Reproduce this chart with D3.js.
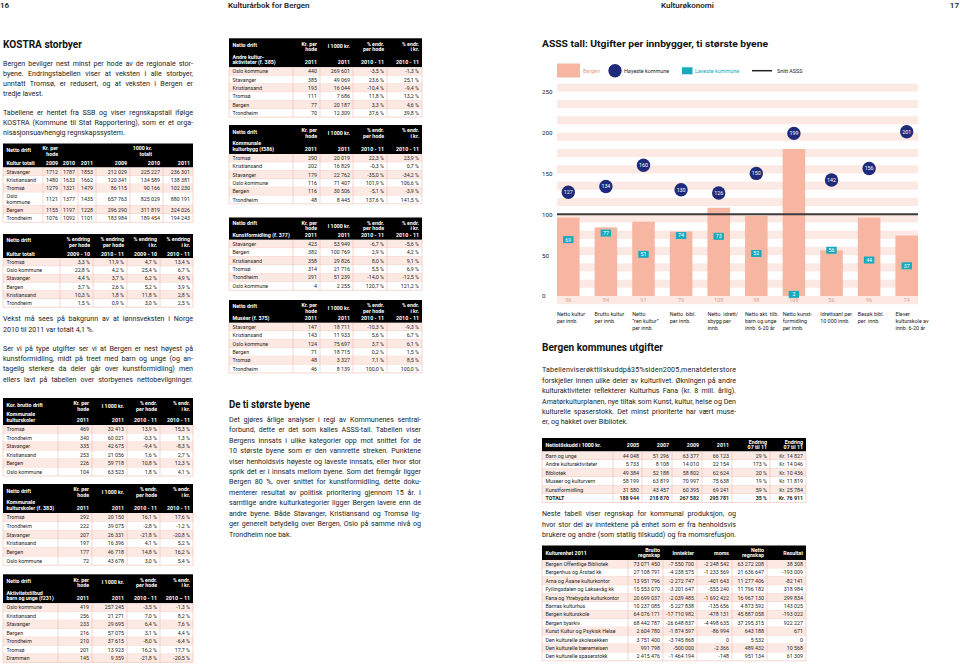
<!DOCTYPE html>
<html><head><meta charset="utf-8">
<script src="https://cdn.jsdelivr.net/npm/d3@7"></script>
<style>
body{margin:0;background:#fff;}
svg{display:block;}
text{font-family:Roboto,"Noto Sans",sans-serif;}
</style>
</head><body>
<svg id="c" width="960" height="664"></svg>
<script>
// ---------------- DATA ----------------
const categories = [["Netto kultur","per innb."],["Brutto kultur","per innb."],["Netto","\u201Cren kultur\u201D","per innb."],["Netto  bibl.","per innb."],["Netto  idrett/","sbygg per","innb."],["Netto akt. tilb.","barn og unge","innb. 6-20 år"],["Netto kunst-","formidling","per innb."],["Idrettsanl per.","10 000 innb."],["Besøk bibl.","per. innb."],["Elever","kulturskole av","innb. 6-20 år"]];
const bergenValues = [96,84,91,79,108,98,180,56,96,74];
const bergenLabels = ["96","84","91","79","108","98","108","56","96","74"];
const highestValues = [127,134,160,130,126,150,199,142,156,201];
const lowestValues = [69,77,51,74,73,52,2,56,44,37];
const snittValue = 100;
const yTickValues = [0,50,100,150,200,250];
const legendLabels = ["Bergen","Høyeste kommune","Laveste kommune","Snitt ASSS"];

const t1Cities = ["Stavanger","Kristiansand","Tromsø","Oslo\nkommune","Bergen","Trondheim"];
const t1Hode2009 = ["1712","1480","1279","1121","1155","1076"];
const t1Hode2010 = ["1787","1633","1321","1377","1197","1092"];
const t1Hode2011 = ["1853","1662","1479","1435","1228","1101"];
const t1Tot2009 = ["212 029","120 341","86 115","657 763","296 290","183 984"];
const t1Tot2010 = ["225 227","134 589","90 166","825 029","311 819","189 454"];
const t1Tot2011 = ["236 301","138 381","102 230","880 191","324 026","194 243"];
const t1Years = ["2009","2010","2011","2009","2010","2011"];
const t2Cities = ["Tromsø","Oslo kommune","Stavanger","Bergen","Kristiansand","Trondheim"];
const t2HodeA = ["3,3 %","22,8 %","4,4 %","3,7 %","10,3 %","1,5 %"];
const t2HodeB = ["11,9 %","4,2 %","3,7 %","2,6 %","1,8 %","0,9 %"];
const t2KrA = ["4,7 %","25,4 %","6,2 %","5,2 %","11,8 %","3,0 %"];
const t2KrB = ["13,4 %","6,7 %","4,9 %","3,9 %","2,8 %","2,5 %"];
const t2Heads = ["% endring\nper hode","% endring\nper hode","% endring\ni kr.","% endring\ni kr."];
const t2Periods = ["2009 - 10","2010 - 11","2009 - 10","2010 - 11"];
const t3Cities = ["Tromsø","Trondheim","Stavanger","Kristiansand","Bergen","Oslo kommune"];
const t3Hode = ["469","340","335","253","226","104"];
const t3Total = ["32 413","60 021","42 675","21 056","59 718","63 523"];
const t3ChgHode = ["13,9 %","-0,3 %","-9,4 %","1,6 %","10,8 %","1,8 %"];
const t3ChgKr = ["15,3 %","1,3 %","-8,3 %","2,7 %","12,3 %","4,1 %"];
const t4Cities = ["Tromsø","Trondheim","Stavanger","Kristiansand","Bergen","Oslo kommune"];
const t4Hode = ["292","222","207","197","177","72"];
const t4Total = ["20 150","39 075","26 331","16 396","46 718","43 678"];
const t4ChgHode = ["16,1 %","-2,8 %","-21,8 %","4,1 %","14,8 %","3,0 %"];
const t4ChgKr = ["17,6 %","-1,2 %","-20,8 %","5,2 %","16,2 %","5,4 %"];
const t5Cities = ["Oslo kommune","Kristiansand","Stavanger","Bergen","Trondheim","Tromsø","Drammen"];
const t5Hode = ["419","256","233","216","210","201","145"];
const t5Total = ["257 245","21 271","29 695","57 075","37 615","13 923","9 359"];
const t5ChgHode = ["-3,5 %","7,0 %","6,4 %","3,1 %","-8,0 %","16,2 %","-21,8 %"];
const t5ChgKr = ["-1,3 %","8,2 %","7,6 %","4,4 %","-6,4 %","17,7 %","-20,5 %"];
const tACities = ["Oslo kommune","Stavanger","Kristiansand","Tromsø","Bergen","Trondheim"];
const tAHode = ["440","385","193","111","77","70"];
const tATotal = ["269 601","49 069","16 044","7 686","20 187","12 309"];
const tAChgHode = ["-3,5 %","23,6 %","-10,4 %","11,8 %","3,3 %","37,6 %"];
const tAChgKr = ["-1,3 %","25,1 %","-9,4 %","13,2 %","4,6 %","39,8 %"];
const tBCities = ["Tromsø","Kristiansand","Stavanger","Oslo kommune","Bergen","Trondheim"];
const tBHode = ["290","202","179","116","116","48"];
const tBTotal = ["20 019","16 829","22 762","71 407","30 506","8 445"];
const tBChgHode = ["22,3 %","-0,3 %","-35,0 %","101,9 %","-5,1 %","137,6 %"];
const tBChgKr = ["23,9 %","0,7 %","-34,2 %","106,6 %","-3,9 %","141,5 %"];
const tCCities = ["Stavanger","Bergen","Kristiansand","Tromsø","Trondheim","Oslo kommune"];
const tCHode = ["423","382","358","314","291","4"];
const tCTotal = ["53 949","100 769","29 826","21 716","51 239","2 255"];
const tCChgHode = ["-6,7 %","2,9 %","8,0 %","5,5 %","-14,0 %","120,7 %"];
const tCChgKr = ["-5,6 %","4,2 %","9,1 %","6,9 %","-12,5 %","121,2 %"];
const tDCities = ["Stavanger","Kristiansand","Oslo kommune","Bergen","Tromsø","Trondheim"];
const tDHode = ["147","143","124","71","48","46"];
const tDTotal = ["18 711","11 933","75 697","18 715","3 327","8 139"];
const tDChgHode = ["-10,3 %","5,6 %","3,7 %","0,2 %","7,1 %","100,0 %"];
const tDChgKr = ["-9,3 %","6,7 %","6,1 %","1,5 %","8,5 %","100,0 %"];
const heads4 = ["Kr. per\nhode","I 1000 kr.","% endr.\nper hode","% endr.\ni kr."];
const periods4 = ["2011","2011","2010 - 11","2010 - 11"];
const r1Rows = ["Barn og unge","Andre kulturaktiviteter","Bibliotek","Museer og kulturvern","Kunstformidling","TOTALT"];
const r1Heads = ["Nettotilskudd i 1000 kr.","2005","2007","2009","2011","Endring\n07 til 11","Endring\n07 til 11"];
const r1Y2005 = ["44 048","5 733","49 384","58 199","31 580","188 944"];
const r1Y2007 = ["51 296","8 108","52 188","63 819","43 457","218 870"];
const r1Y2009 = ["63 377","14 010","58 802","70 997","60 395","267 582"];
const r1Y2011 = ["66 123","22 154","62 624","75 638","69 241","295 781"];
const r1Pct = ["29 %","173 %","20 %","19 %","59 %","35 %"];
const r1Kr = ["Kr. 14 827","Kr. 14 046","Kr. 10 436","Kr. 11 819","Kr. 25 784","Kr. 76 911"];
const r2Heads = ["Kulturenhet 2011","Brutto\nregnskap","Inntekter","moms","Netto\nregnskap","Resultat"];
const r2Units = ["Bergen Offentlige Bibliotek","Bergenhus og Årstad kk","Arna og Åsane kulturkontor","Fyllingsdalen og Laksevåg kk","Fana og Ytrebygda kulturkontor","Barnas kulturhus","Bergen kulturskole","Bergen byarkiv","Kunst Kultur og Psykisk Helse","Den kulturelle skolesekken","Den kulturelle bæremeisen","Den kulturelle spaserstokk"];
const r2Brutto = ["73 071 450","27 108 791","13 951 796","15 553 070","20 699 037","10 237 085","64 076 171","68 442 787","2 604 780","3 751 400","991 798","2 415 476"];
const r2Inntekter = ["-7 550 700","-4 238 575","-2 272 747","-3 201 647","-2 039 485","-5 227 838","-17 710 982","-26 648 837","-1 874 597","-3 745 868","-500 000","-1 464 194"];
const r2Moms = ["-2 248 542","-1 233 569","-401 643","-555 240","-1 692 422","-135 656","-478 131","-4 498 635","-86 994","0","-2 366","-148"];
const r2Netto = ["63 272 208","21 636 647","11 277 406","11 796 182","16 967 130","4 873 592","45 887 058","37 295 315","643 188","5 532","489 432","951 134"];
const r2Resultat = ["38 308","-193 009","-82 141","318 984","299 834","143 025","-193 022","922 227","671","0","10 568","61 309"];

// ---------------- HELPERS ----------------
const svg = d3.select("#c");
const INK = "#1d1d1b";
const PINK_FILL = "#fde9e3";
const PINK_LINE = "#f2bcae";

function txt(p, x, cy, s, o = {}) {
  const size = o.size || 7;
  return p.append("text").attr("x", x).attr("y", cy + size * 0.35)
    .attr("font-size", size).attr("font-weight", o.weight || 400)
    .attr("fill", o.fill || INK).attr("text-anchor", o.anchor || "start").text(s);
}
function fit(sel, width, justify) {
  const n = sel.node(); const w = n.getComputedTextLength();
  const s = sel.text(); const spaces = (s.match(/ /g) || []).length;
  if (w > width) { sel.attr("textLength", width).attr("lengthAdjust", "spacingAndGlyphs"); }
  else if (justify) {
    if (spaces > 0) sel.style("word-spacing", ((width - w) / spaces) + "px");
    else sel.attr("textLength", width).attr("lengthAdjust", "spacing");
  }
}
function para(lines, x, w, y0, lh, size, justifyLast) {
  lines.forEach((l, i) => {
    const t = txt(svg, x, y0 + i * lh, l, { size });
    fit(t, w, i < lines.length - 1 || justifyLast);
  });
}
function heading(s, x, cy, size, w) {
  const t = txt(svg, x, cy, s, { size, weight: 700, fill: "#111" });
  if (w) t.attr("textLength", w).attr("lengthAdjust", "spacingAndGlyphs");
  return t;
}

const FS = 5.3, LG = 5.4;
function drawTable(cols, top, headH, headCells, columns, rowHs, opts = {}) {
  const g = svg.append("g");
  const x0 = cols[0], x1 = cols[cols.length - 1];
  g.append("rect").attr("x", x0).attr("y", top).attr("width", x1 - x0).attr("height", headH).attr("fill", "#000");
  headCells.forEach(h => {
    h.lines.forEach((ln, i) => {
      const x = h.x != null ? h.x : (h.anchor === "start" ? cols[h.c] + 3.5 : cols[h.c + 1] - 3);
      txt(g, x, top + h.cy + i * LG, ln, { size: FS, weight: 700, fill: "#fff", anchor: h.anchor });
    });
  });
  const nRows = columns[0].length;
  let y = top + headH;
  const y0 = y;
  for (let r = 0; r < nRows; r++) {
    const rh = Array.isArray(rowHs) ? rowHs[r] : rowHs;
    g.append("rect").attr("x", x0).attr("y", y).attr("width", x1 - x0).attr("height", rh)
      .attr("fill", r % 2 === 0 ? PINK_FILL : "#fff");
    columns.forEach((col, c) => {
      const lines = String(col[r]).split("\n");
      lines.forEach((ln, i) => {
        const cy = y + rh / 2 - (lines.length - 1) * LG / 2 + i * LG;
        const bold = opts.boldRows && opts.boldRows.includes(r);
        if (c === 0) txt(g, cols[0] + 3.5, cy, ln, { size: FS, weight: bold ? 700 : 400 });
        else txt(g, cols[c + 1] - 3, cy, ln, { size: FS, anchor: "end", weight: bold ? 700 : 400 });
      });
    });
    y += rh;
    g.append("line").attr("x1", x0).attr("x2", x1).attr("y1", y).attr("y2", y).attr("stroke", PINK_LINE).attr("stroke-width", 0.6);
  }
  cols.forEach((cx) => {
    g.append("line").attr("x1", cx).attr("x2", cx).attr("y1", y0).attr("y2", y).attr("stroke", PINK_LINE).attr("stroke-width", 0.6);
  });
  return y;
}
function head4(title, sub, headH, periods) {
  const cells = [{ c: 0, lines: [title], cy: headH > 24 ? 7 : 6, anchor: "start" }];
  const subLines = sub.split("\n");
  cells.push({ c: 0, lines: subLines, cy: headH - 5 - (subLines.length - 1) * LG, anchor: "start" });
  heads4.forEach((h, i) => {
    const ls = h.split("\n");
    cells.push({ c: i + 1, lines: ls, cy: ls.length === 1 ? 5.5 + LG / 2 : 5.5, anchor: "end" });
    cells.push({ c: i + 1, lines: [periods[i]], cy: headH - 5, anchor: "end" });
  });
  return cells;
}

// ---------------- PAGE HEADER ----------------
txt(svg, 0, 5, "16", { size: 8, weight: 600 });
txt(svg, 228, 5, "Kulturårbok for Bergen", { size: 8, weight: 600 });
txt(svg, 661, 5, "Kulturøkonomi", { size: 8, weight: 600 });
txt(svg, 959, 5, "17", { size: 8, weight: 600, anchor: "end" });

// ---------------- LEFT COLUMN ----------------
heading("KOSTRA storbyer", 3, 44, 10.5, 79);
para(["Bergen bevilger nest minst per hode av de regionale stor-",
  "byene. Endringstabellen viser at veksten i alle storbyer,",
  "unntatt Tromsø, er redusert, og at veksten i Bergen er",
  "tredje lavest."], 3, 190, 63.3, 10.1, 7.1);
para(["Tabellene er hentet fra SSB og viser regnskapstall ifølge",
  "KOSTRA (Kommune til Stat Rapportering), som er et orga-",
  "nisasjonsuavhengig regnskapssystem."], 3, 190, 112.3, 10.2, 7.1);
svg.append("line").attr("x1", 3).attr("x2", 193).attr("y1", 145).attr("y2", 145).attr("stroke", "#888").attr("stroke-width", 0.6);

(function () {
  const cols = [3, 43, 61, 78, 96, 130, 163, 193];
  const hh = 24;
  const cells = [{ c: 0, lines: ["Netto drift"], cy: 6.5, anchor: "start" },
  { c: 1, lines: ["Kr. per", "hode"], cy: 5, anchor: "end" },
  { c: 4, lines: ["1000 kr.", "totalt"], cy: 5, anchor: "end", x: 152 },
  { c: 0, lines: ["Kultur totalt"], cy: hh - 4.2, anchor: "start" }];
  t1Years.forEach((yr, i) => cells.push({ c: i + 1, lines: [yr], cy: hh - 4.2, anchor: "end" }));
  drawTable(cols, 143.5, hh, cells, [t1Cities, t1Hode2009, t1Hode2010, t1Hode2011, t1Tot2009, t1Tot2010, t1Tot2011],
    [8.3, 8.3, 8.3, 13.3, 8.3, 8.3]);
})();
(function () {
  const cols = [3, 60, 93, 127, 160, 193];
  const hh = 24;
  const cells = [{ c: 0, lines: ["Netto drift"], cy: 6.5, anchor: "start" },
  { c: 0, lines: ["Kultur totalt"], cy: hh - 4.2, anchor: "start" }];
  t2Heads.forEach((h, i) => { cells.push({ c: i + 1, lines: h.split("\n"), cy: 5.5, anchor: "end" }); cells.push({ c: i + 1, lines: [t2Periods[i]], cy: hh - 4.2, anchor: "end" }); });
  drawTable(cols, 234, hh, cells, [t2Cities, t2HodeA, t2HodeB, t2KrA, t2KrB], 8.2);
})();
para(["Vekst må sees på bakgrunn av at lønnsveksten i Norge",
  "2010 til 2011 var totalt 4,1 %."], 3, 190, 319, 10.2, 7.1);
para(["Ser vi på type utgifter ser vi at Bergen er nest høyest på",
  "kunstformidling, midt på treet med barn og unge (og an-",
  "tagelig sterkere da deler går over kunstformidling) men",
  "ellers lavt på tabellen over storbyenes nettobevilgninger."], 3, 190, 348.3, 10.3, 7.1, true);

const cols4L = [3, 58, 92, 127, 160, 193];
drawTable(cols4L, 398, 27, head4("Kor. brutto drift", "Kommunale\nkulturskoler", 27, periods4), [t3Cities, t3Hode, t3Total, t3ChgHode, t3ChgKr], 8.5);
drawTable(cols4L, 484, 29, head4("Netto drift", "Kommunale\nkulturskoler (f. 383)", 29, periods4), [t4Cities, t4Hode, t4Total, t4ChgHode, t4ChgKr], 8.7);
drawTable(cols4L, 574.3, 29, head4("Netto drift", "Aktivitetstilbud\nbarn og unge (f231)", 29, ["2011", "2011", "2010 - 11", "2010 – 11"]), [t5Cities, t5Hode, t5Total, t5ChgHode, t5ChgKr], 8.45);

// ---------------- MIDDLE COLUMN ----------------
const cols4M = [229, 293, 320, 353, 387, 422];
drawTable(cols4M, 38.3, 29, head4("Netto drift", "Andre kultur-\naktiviteter (f. 385)", 29, periods4), [tACities, tAHode, tATotal, tAChgHode, tAChgKr], 8.3);
drawTable(cols4M, 125, 29, head4("Netto drift", "Kommunale\nkulturbygg (f386)", 29, periods4), [tBCities, tBHode, tBTotal, tBChgHode, tBChgKr], 8.3);
drawTable(cols4M, 217.5, 22.3, head4("Netto drift", "Kunstformidling (f. 377)", 22.3, periods4), [tCCities, tCHode, tCTotal, tCChgHode, tCChgKr], 8.4);
drawTable(cols4M, 300, 22.8, head4("Netto drift", "Muséer (f. 375)", 22.8, periods4), [tDCities, tDHode, tDTotal, tDChgHode, tDChgKr], 8.35);

heading("De ti største byene", 229, 404.3, 10.5, 81);
para(["Det gjøres årlige analyser i regi av Kommunenes sentral-",
  "forbund, dette er det som kalles ASSS-tall. Tabellen viser",
  "Bergens innsats i ulike kategorier opp mot snittet for de",
  "10 største byene som er den vannrette streken. Punktene",
  "viser henholdsvis høyeste og laveste innsats, eller hvor stor",
  "sprik det er i innsats mellom byene. Som det fremgår ligger",
  "Bergen 80 %, over snittet for kunstformidling, dette doku-",
  "menterer resultat av politisk prioritering gjennom 15 år. I",
  "samtlige andre kulturkategorier ligger Bergen lavere enn de",
  "andre byene. Både Stavanger, Kristiansand og Tromsø lig-",
  "ger generelt betydelig over Bergen, Oslo på samme nivå og",
  "Trondheim noe bak."], 229, 192, 419.3, 10.45, 7.1);

// ---------------- CHART ----------------
heading("ASSS tall: Utgifter per innbygger, ti største byene", 542, 44, 9.8, 226);

const x = d3.scaleBand().domain(d3.range(categories.length)).range([557, 918]).paddingInner(0.4).paddingOuter(0);
const y = d3.scaleLinear().domain([0, 250]).range([296, 91.7]);
const chart = svg.append("g");

const stripeStarts = d3.range(-10, 260, 20);
chart.selectAll("rect.stripe").data(stripeStarts).join("rect").attr("class", "stripe")
  .attr("x", 557).attr("width", 918 - 557)
  .attr("y", d => y(d + 10)).attr("height", d => y(d) - y(d + 10)).attr("fill", PINK_FILL);

const yAxis = d3.axisLeft(y).tickValues(yTickValues).tickSize(0).tickPadding(0);
const ag = chart.append("g").attr("transform", "translate(542,0)").call(yAxis);
ag.select(".domain").remove();
ag.selectAll("text").attr("x", 0).attr("text-anchor", "start").attr("font-size", 6.2).attr("fill", "#222")
  .attr("font-family", "Roboto, sans-serif");

chart.selectAll("rect.bar").data(bergenValues).join("rect").attr("class", "bar")
  .attr("x", (d, i) => x(i)).attr("width", x.bandwidth())
  .attr("y", d => y(d)).attr("height", d => y(0) - y(d)).attr("fill", "#f7b6a2");

chart.selectAll("text.vl").data(bergenLabels).join("text").attr("class", "vl")
  .attr("x", (d, i) => x(i) + x.bandwidth() / 2).attr("y", y(-5) + 2)
  .attr("text-anchor", "middle").attr("font-size", 5.6).attr("fill", "#d9a393").text(d => d);

chart.append("line").attr("x1", 557).attr("x2", 918).attr("y1", y(snittValue)).attr("y2", y(snittValue))
  .attr("stroke", "#3b3b3b").attr("stroke-width", 2);

const lg = chart.selectAll("g.low").data(lowestValues).join("g").attr("class", "low")
  .attr("transform", (d, i) => `translate(${x(i) + x.bandwidth() / 2},${y(d)})`);
lg.append("rect").attr("x", -5.2).attr("y", -3.5).attr("width", 10.4).attr("height", 7).attr("fill", "#17a9be");
lg.append("text").attr("text-anchor", "middle").attr("y", 1.9).attr("font-size", 5.3).attr("fill", "#fff").text(d => d);

const hg = chart.selectAll("g.high").data(highestValues).join("g").attr("class", "high")
  .attr("transform", (d, i) => `translate(${x(i) + x.bandwidth() / 2},${y(d)})`);
hg.append("circle").attr("r", 6.7).attr("fill", "#1f2b7a");
hg.append("text").attr("text-anchor", "middle").attr("y", 1.9).attr("font-size", 5.3).attr("fill", "#fff").text(d => d);

categories.forEach((lines, i) => {
  lines.forEach((ln, k) => txt(chart, x(i), 314 + k * 7, ln, { size: 5.4, fill: "#222" }).attr("xml:space", "preserve"));
});

const leg = chart.append("g");
leg.append("rect").attr("x", 557).attr("y", 63.5).attr("width", 23).attr("height", 14).attr("fill", "#f7b6a2");
txt(leg, 583, 70.7, legendLabels[0], { size: 5.4, fill: "#f09a86" });
leg.append("circle").attr("cx", 615).attr("cy", 70.7).attr("r", 6.7).attr("fill", "#1f2b7a");
txt(leg, 624, 70.7, legendLabels[1], { size: 5.4, fill: "#222" });
leg.append("rect").attr("x", 682).attr("y", 67.3).attr("width", 10.5).attr("height", 7).attr("fill", "#17a9be");
txt(leg, 695, 70.7, legendLabels[2], { size: 5.4, fill: "#17a9be" });
leg.append("line").attr("x1", 752).attr("x2", 772).attr("y1", 70.7).attr("y2", 70.7).attr("stroke", "#222").attr("stroke-width", 1.5);
txt(leg, 777, 70.7, legendLabels[3], { size: 5.4, fill: "#222" });

// ---------------- RIGHT TEXT + TABLES ----------------
heading("Bergen kommunes utgifter", 542, 347.7, 10.5, 121);
para(["Tabellenviserøkttilskuddpå35%siden2005,menatdeterstore",
  "forskjeller innen ulike deler av kulturlivet. Økningen på andre",
  "kulturaktiviteter reflekterer Kulturhus Fana (kr. 8 mill. årlig).",
  "Amatørkulturplanen, nye tiltak som Kunst, kultur, helse og Den",
  "kulturelle spaserstokk. Det minst prioriterte har vært muse-",
  "er, og hakket over Bibliotek."], 542, 194, 370, 10.35, 7.1);

(function () {
  const cols = [542, 613, 642, 672, 702, 732, 770, 806];
  const hh = 13.5;
  const cells = [];
  r1Heads.forEach((h, i) => {
    const ls = h.split("\n");
    cells.push({ c: i, lines: ls, cy: hh / 2 - (ls.length - 1) * LG / 2, anchor: i === 0 ? "start" : "end" });
  });
  drawTable(cols, 438, hh, cells, [r1Rows, r1Y2005, r1Y2007, r1Y2009, r1Y2011, r1Pct, r1Kr], 8.5, { boldRows: [5] });
})();

para(["Neste tabell viser regnskap for kommunal produksjon, og",
  "hvor stor del av inntektene på enhet som er fra henholdsvis",
  "brukere og andre (som statlig tilskudd) og fra momsrefusjon."], 542, 194, 513.3, 10.8, 7.1, true);

(function () {
  const cols = [542, 628, 663, 697, 732, 767, 806];
  const hh = 14.5;
  const cells = [];
  r2Heads.forEach((h, i) => {
    const ls = h.split("\n");
    cells.push({ c: i, lines: ls, cy: hh / 2 - (ls.length - 1) * LG / 2, anchor: i === 0 ? "start" : "end" });
  });
  drawTable(cols, 545.5, hh, cells, [r2Units, r2Brutto, r2Inntekter, r2Moms, r2Netto, r2Resultat], 8.4);
})();
</script>
</body></html>
